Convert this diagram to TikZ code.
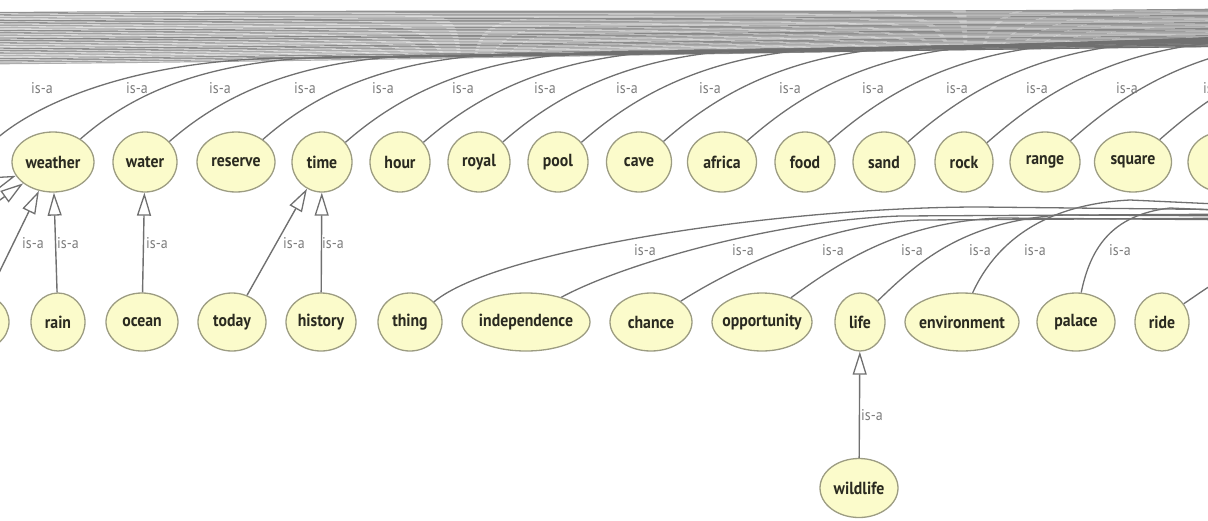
\documentclass[tikz,border=0pt]{standalone}
\usepackage{fontspec}
\setmainfont{PT Sans}[FakeStretch=0.9]
\usetikzlibrary{arrows.meta,shapes.geometric}
\definecolor{nodefill}{HTML}{FBFBCB}
\definecolor{nodeline}{HTML}{9C9C82}
\definecolor{edgecol}{HTML}{707070}
\definecolor{labcol}{HTML}{7C7C7C}
\definecolor{txtcol}{HTML}{2A2A20}
\begin{document}
\begin{tikzpicture}[x=1pt,y=-1pt,
 concept/.style={ellipse,draw=nodeline,line width=1.3pt,fill=nodefill,inner xsep=-14pt,inner ysep=0pt,minimum height=58pt,text=txtcol,font=\fontsize{17.5}{17.5}\selectfont\bfseries},
 isa/.style={draw=edgecol,line width=1.4pt,-{Triangle[open,length=23pt,width=14pt,line width=1.3pt]}},
 link/.style={draw=edgecol,line width=1.3pt},
 lab/.style={text=labcol,font=\fontsize{15.5}{15.5}\selectfont,inner sep=1pt},
 bund/.style={line width=1.2pt}
]
\useasboundingbox (0,0) rectangle (1208,520);
\clip (0,0) rectangle (1208,520);

% background bundle of far edges at the top
\foreach \i in {1,...,32}{
  \pgfmathsetmacro\ya{11+1.65*\i}
  \pgfmathsetmacro\yb{8+1.2*\i}
  \pgfmathtruncatemacro\sh{50+mod(\i*37,45)}
  \coordinate (bl\i) at (-10,\ya);
  \coordinate (br\i) at (1220,\yb);
  \draw[bund,draw=gray!\sh] (bl\i) .. controls +(400,-3) and +(-400,4) .. (br\i);
}

% top row
\node[concept,minimum width=82pt,minimum height=60pt] (weather) at (53,162) {weather};
\node[concept,minimum width=64pt,minimum height=60pt] (water) at (145,162) {water};
\node[concept,minimum width=78pt,minimum height=60pt] (reserve) at (236,162) {reserve};
\node[concept,minimum width=60pt,minimum height=60pt] (time) at (322,162) {time};
\node[concept,minimum width=60pt,minimum height=60pt] (hour) at (400,162) {hour};
\node[concept,minimum width=62pt,minimum height=60pt] (royal) at (479,162) {royal};
\node[concept,minimum width=60pt,minimum height=60pt] (pool) at (558,162) {pool};
\node[concept,minimum width=65pt,minimum height=60pt] (cave) at (639,162) {cave};
\node[concept,minimum width=69pt,minimum height=60pt] (africa) at (722,162) {africa};
\node[concept,minimum width=60pt,minimum height=60pt] (food) at (805,162) {food};
\node[concept,minimum width=62pt,minimum height=60pt] (sand) at (884,162) {sand};
\node[concept,minimum width=58pt,minimum height=60pt] (rock) at (964,162) {rock};
\node[concept,minimum width=70pt,minimum height=60pt] (range) at (1045,162) {range};
\node[concept,minimum width=77pt,minimum height=60pt] (square) at (1133,162) {square};
\node[concept,minimum width=70pt,minimum height=60pt] (topcut) at (1223,162) {};

% bottom row
\node[concept,minimum width=68pt] (botcut) at (-25,322) {};
\node[concept,minimum width=54pt] (rain) at (58,322) {rain};
\node[concept,minimum width=72pt] (ocean) at (142,322) {ocean};
\node[concept,minimum width=68pt] (today) at (232,322) {today};
\node[concept,minimum width=70pt] (history) at (321,322) {history};
\node[concept,minimum width=64pt] (thing) at (410,322) {thing};
\node[concept,minimum width=128pt] (independence) at (526,322) {independence};
\node[concept,minimum width=82pt] (chance) at (651,322) {chance};
\node[concept,minimum width=100pt] (opportunity) at (762,322) {opportunity};
\node[concept,minimum width=50pt] (life) at (860,322) {life};
\node[concept,minimum width=114pt] (environment) at (962,322) {environment};
\node[concept,minimum width=78pt] (palace) at (1076,322) {palace};
\node[concept,minimum width=54pt] (ride) at (1162,322) {ride};
\node[concept,minimum width=78pt,minimum height=59pt] (wildlife) at (859,488) {wildlife};

% top-row edges to the far root
\coordinate (offL) at (-5,140);
\coordinate (teL) at (295,58);
\coordinate (trL) at (1400,45);
\draw[link] (offL) .. controls +(45,-40) and +(-150,0) .. (teL) .. controls +(150,0) and +(-200,0) .. (trL);
\foreach \n/\cx/\k in {weather/53/1, water/145/2, reserve/236/3, time/322/4, hour/400/5, royal/479/6, pool/558/7, cave/639/8, africa/722/9, food/805/10, sand/884/11, rock/964/12, range/1045/13, square/1133/14, topcut/1223/15}{
  \pgfmathsetmacro\xe{\cx+300}
  \pgfmathsetmacro\ye{63-0.018*\xe}
  \pgfmathsetmacro\yr{\ye-14}
  \coordinate (te\k) at (\xe,\ye);
  \coordinate (tr\k) at (1450,\yr);
  \draw[link] (\n.40) .. controls +(48,-42) and +(-150,0) .. (te\k) .. controls +(150,0) and +(-200,0) .. (tr\k);
}
\foreach \lx [count=\c] in {42,137,220,305,383,463,545,627,710,790,873,957,1037,1127,1214}{
  \node[lab] (tl\c) at (\lx,88) {is-a};
}

% bottom-row edges to the far root
\coordinate (be1) at (980,207);  \coordinate (bf1) at (1260,210);
\coordinate (be2) at (900,216);  \coordinate (bf2) at (1260,214);
\coordinate (be3) at (920,220);  \coordinate (bf3) at (1260,218);
\coordinate (be4) at (1000,218); \coordinate (bf4) at (1260,220);
\coordinate (be5) at (1060,215); \coordinate (bf5) at (1260,216);
\coordinate (be6) at (1130,200); \coordinate (bf6) at (1260,206);
\coordinate (be7) at (1170,208); \coordinate (bf7) at (1260,212);
\coordinate (bf8) at (1260,262);
\draw[link] (thing.40) .. controls (495,250) and (780,207) .. (be1) -- (bf1);
\draw[link] (independence.35) .. controls (627,262) and (780,220) .. (be2) -- (bf2);
\draw[link] (chance.35) .. controls (730,270) and (820,225) .. (be3) -- (bf3);
\draw[link] (opportunity.40) .. controls (840,262) and (900,222) .. (be4) -- (bf4);
\draw[link] (life.50) .. controls (915,265) and (960,222) .. (be5) -- (bf5);
\draw[link] (environment.70) .. controls (990,255) and (1030,205) .. (be6) -- (bf6);
\draw[link] (palace.80) .. controls (1090,250) and (1110,215) .. (be7) -- (bf7);
\draw[link] (ride.40) .. controls (1200,293) and (1230,270) .. (bf8);
\foreach \lx [count=\c] in {645,743,833,912,980,1035,1120}{
  \node[lab] (bl\c) at (\lx,250) {is-a};
}

% is-a arrows
\coordinate (wx1) at (-70,250);
\coordinate (wx2) at (-90,215);
\draw[isa] (wx1) -- (weather);
\draw[isa] (wx2) -- (weather);
\draw[isa] (botcut) -- (weather);
\draw[isa] (rain) -- (weather);
\draw[isa] (ocean) -- (water);
\draw[isa] (today) -- (time);
\draw[isa] (history) -- (time);
\draw[isa] (wildlife) -- (life);
\node[lab] (la1) at (33,243) {is-a};
\node[lab] (la2) at (68,243) {is-a};
\node[lab] (la3) at (157,243) {is-a};
\node[lab] (la4) at (294,243) {is-a};
\node[lab] (la5) at (333,243) {is-a};
\node[lab] (la6) at (872,415) {is-a};
\end{tikzpicture}
\end{document}
